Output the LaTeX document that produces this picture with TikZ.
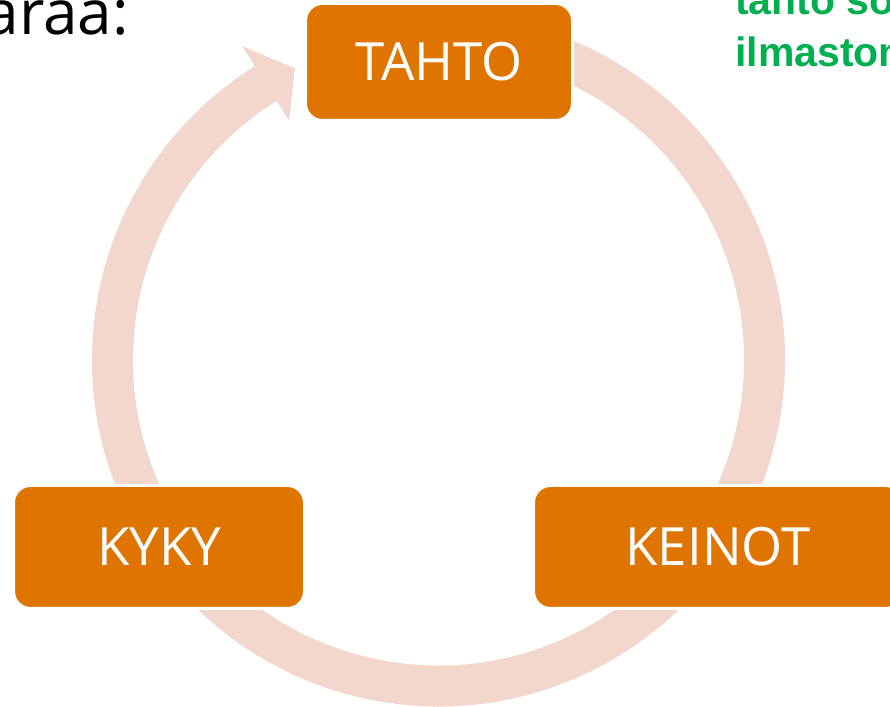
\documentclass[tikz,border=0pt]{standalone}
\usepackage{fontspec}
\setmainfont{Open Sans}
\newfontfamily\greenfont{Liberation Sans}
\definecolor{boxorange}{RGB}{224,116,0}
\definecolor{arcpink}{RGB}{243,215,205}
\definecolor{textgreen}{RGB}{0,176,80}
\begin{document}
\begin{tikzpicture}[x=0.03cm,y=0.03cm,
  stagebox/.style={rectangle, rounded corners=0.51cm, fill=boxorange, draw=white, line width=0.09cm,
    text=white, font=\fontsize{45}{54}\selectfont, inner sep=0pt},
  cyclearc/.style={arcpink, line width=1.23cm},
  cyclehead/.style={fill=arcpink}]
\useasboundingbox (0,0) rectangle (890,707);
\clip (0,0) rectangle (890,707);
\coordinate (C) at (438.5,347);
% cycle arc
\draw[cyclearc] ([shift={(80:326)}]C) arc[start angle=80, end angle=-238.5, radius=326];
\fill[cyclehead, shift={(C)}] (122:370) -- (116.2:325) -- (122:282) -- cycle;
% boxes
\node[stagebox, minimum width=267*0.03cm, minimum height=117*0.03cm] (tahto) at (439,645) {TAHTO};
\node[stagebox, minimum width=291*0.03cm, minimum height=123*0.03cm] (kyky) at (159,160) {KYKY};
\node[stagebox, minimum width=369*0.03cm, minimum height=123*0.03cm] (keinot) at (718,160) {KEINOT};
% cut-off texts
\node[anchor=base east, inner sep=0pt, font=\fontsize{53}{60}\selectfont] (title) at (129,672) {araa:};
\node[anchor=base west, inner sep=0pt, text=textgreen, font=\greenfont\bfseries\fontsize{35}{42}\selectfont] (green1) at (735,692) {tahto so};
\node[anchor=base west, inner sep=0pt, text=textgreen, font=\greenfont\bfseries\fontsize{35}{42}\selectfont] (green2) at (735,640) {ilmaston};
\end{tikzpicture}
\end{document}
